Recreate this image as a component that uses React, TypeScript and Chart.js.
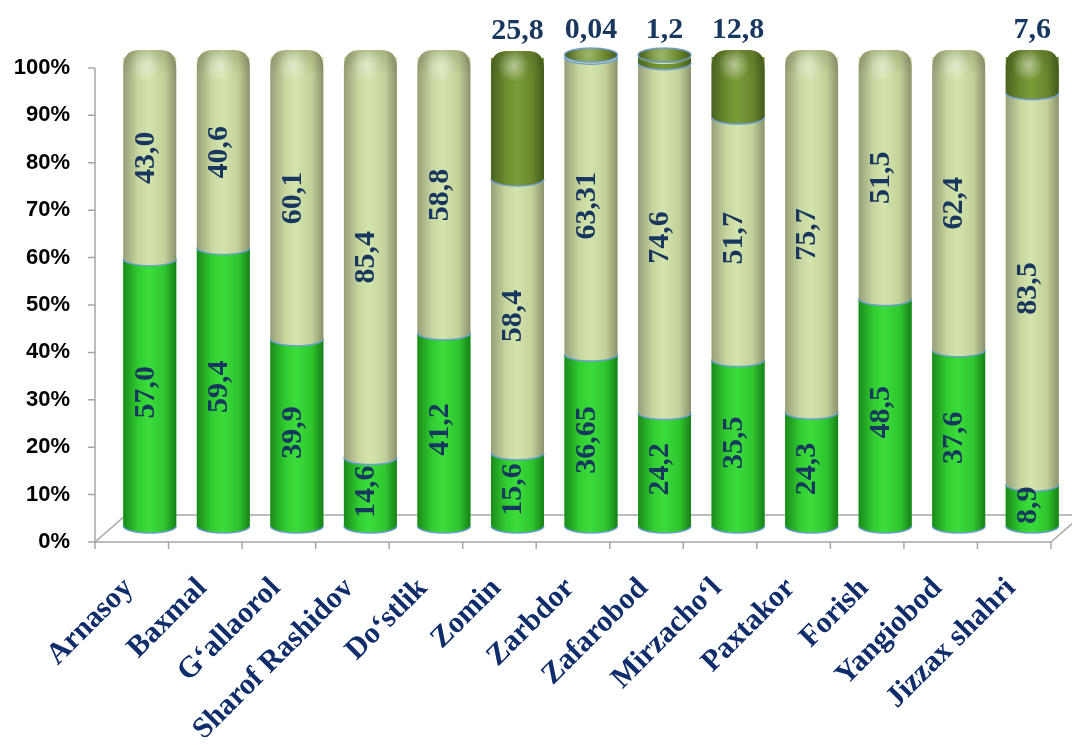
import React, { useEffect, useRef } from "react";
import { Chart, registerables } from "chart.js";

Chart.register(...registerables);

// ---------- data ----------
const categories = [
  "Arnasoy",
  "Baxmal",
  "G‘allaorol",
  "Sharof Rashidov",
  "Do‘stlik",
  "Zomin",
  "Zarbdor",
  "Zafarobod",
  "Mirzacho‘l",
  "Paxtakor",
  "Forish",
  "Yangiobod",
  "Jizzax shahri",
];
const greenValues = [57.0, 59.4, 39.9, 14.6, 41.2, 15.6, 36.65, 24.2, 35.5, 24.3, 48.5, 37.6, 8.9];
const lightValues = [43.0, 40.6, 60.1, 85.4, 58.8, 58.4, 63.31, 74.6, 51.7, 75.7, 51.5, 62.4, 83.5];
const darkValues = [null, null, null, null, null, 25.8, 0.04, 1.2, 12.8, null, null, null, 7.6];
const yTickValues = [0, 10, 20, 30, 40, 50, 60, 70, 80, 90, 100];
// front plane of the 3-D frame (the value axis) is slightly lower/taller than the bar plane
const frontAxisMin = 3.38;
const frontAxisMax = 102.3;

// ---------- styles ----------
const SERIF = '"Liberation Serif", "Times New Roman", serif';
const SANS = '"Liberation Sans", Arial, sans-serif';
const NAVY = "#17375e";
const AXIS_NAVY = "#0f2d6b";
const FRAME = "#a6a6a6";
const segStops: [number, string][][] = [
  [[0, "#1b8a1b"], [0.28, "#31cc31"], [0.48, "#3cdc3c"], [0.78, "#2fc52f"], [1, "#178017"]],
  [[0, "#979f79"], [0.28, "#c8d6a0"], [0.48, "#d4e4ad"], [0.78, "#c3d09a"], [1, "#8a926c"]],
  [[0, "#4a6220"], [0.28, "#6d8b2f"], [0.48, "#7c9c3a"], [0.78, "#6a862d"], [1, "#435a1c"]],
];
const EDGE = "rgba(105,155,215,0.9)";

function fmt(v: number): string {
  const s = v.toString();
  const dec = s.includes(".") ? s.split(".")[1].length : 0;
  return v.toFixed(Math.max(1, dec)).replace(".", ",");
}

const frame3d = {
  id: "frame3d",
  beforeDatasetsDraw(chart: any) {
    const { ctx, chartArea, scales } = chart;
    const yf = scales.yf;
    const depthX = 18;
    const fL = chartArea.left - depthX;
    const fR = chartArea.right - depthX;
    const f0 = yf.getPixelForValue(0);
    const f100 = yf.getPixelForValue(100);
    ctx.save();
    ctx.strokeStyle = FRAME;
    ctx.lineWidth = 1.5;
    ctx.beginPath();
    ctx.moveTo(fL, f100);
    ctx.lineTo(fL, f0);
    ctx.lineTo(fR, f0);
    for (const v of yTickValues) {
      const yy = yf.getPixelForValue(v);
      ctx.moveTo(fL - 7, yy);
      ctx.lineTo(fL, yy);
    }
    const n = categories.length;
    for (let k = 0; k <= n; k++) {
      const xx = fL + ((fR - fL) * k) / n;
      ctx.moveTo(xx, f0);
      ctx.lineTo(xx, f0 + 7);
    }
    // floor depth
    ctx.moveTo(fL, f0);
    ctx.lineTo(fL + 31, f0 - 27);
    ctx.lineTo(fR + 31, f0 - 27);
    ctx.moveTo(fR, f0);
    ctx.lineTo(fR + 31, f0 - 27);
    ctx.stroke();
    ctx.restore();
  },
  afterDatasetsDraw(chart: any) {
    const { ctx } = chart;
    const ry = 7;
    const nDs = chart.data.datasets.length;
    ctx.save();
    for (let i = 0; i < categories.length; i++) {
      let topDs = -1;
      for (let d = 0; d < nDs; d++) {
        const v = chart.data.datasets[d].data[i];
        if (v) topDs = d;
      }
      for (let d = 0; d <= topDs; d++) {
        const v = chart.data.datasets[d].data[i];
        if (!v) continue;
        const el = chart.getDatasetMeta(d).data[i];
        const { x, y, base, width } = el.getProps(["x", "y", "base", "width"], true);
        const rx = width / 2;
        const g = ctx.createLinearGradient(x - rx, 0, x + rx, 0);
        for (const [o, c] of segStops[d]) g.addColorStop(o, c);
        const isTop = d === topDs;
        const thin = base - y < 10;
        ctx.beginPath();
        if (isTop && !thin) {
          const sideTop = y + 12;
          const capTop = y - 7;
          ctx.moveTo(x - rx, sideTop);
          ctx.lineTo(x - rx, base);
          ctx.ellipse(x, base, rx, ry, 0, Math.PI, 0, true);
          ctx.lineTo(x + rx, sideTop);
          ctx.bezierCurveTo(x + rx, capTop + 5, x + rx - 5, capTop, x + rx - 18, capTop);
          ctx.lineTo(x - rx + 18, capTop);
          ctx.bezierCurveTo(x - rx + 5, capTop, x - rx, capTop + 5, x - rx, sideTop);
          ctx.closePath();
          ctx.fillStyle = g;
          ctx.fill();
          const vg = ctx.createLinearGradient(0, capTop, 0, sideTop + 6);
          vg.addColorStop(0, "rgba(60,70,30,0.22)");
          vg.addColorStop(1, "rgba(60,70,30,0)");
          ctx.fillStyle = vg;
          ctx.fill();
          const rg = ctx.createRadialGradient(x - 4, y + 8, 1, x - 4, y + 8, 16);
          rg.addColorStop(0, "rgba(255,255,255,0.45)");
          rg.addColorStop(1, "rgba(255,255,255,0)");
          ctx.fillStyle = rg;
          ctx.fill();
        } else {
          ctx.moveTo(x - rx, y);
          ctx.lineTo(x - rx, base);
          ctx.ellipse(x, base, rx, ry, 0, Math.PI, 0, true);
          ctx.lineTo(x + rx, y);
          ctx.ellipse(x, y, rx, ry, 0, 0, Math.PI, false);
          ctx.closePath();
          ctx.fillStyle = g;
          ctx.fill();
          if (isTop) {
            ctx.beginPath();
            ctx.ellipse(x, y - 2, rx, ry, 0, 0, Math.PI * 2);
            ctx.fillStyle = g;
            ctx.fill();
            const rg = ctx.createRadialGradient(x - 4, y - 2, 1, x - 4, y - 2, 18);
            rg.addColorStop(0, "rgba(255,255,255,0.25)");
            rg.addColorStop(1, "rgba(255,255,255,0)");
            ctx.fillStyle = rg;
            ctx.fill();
            ctx.strokeStyle = EDGE;
            ctx.lineWidth = 1.5;
            ctx.stroke();
          }
        }
        ctx.beginPath();
        ctx.ellipse(x, base, rx, ry, 0, Math.PI, 0, true);
        ctx.strokeStyle = EDGE;
        ctx.lineWidth = 1.5;
        ctx.stroke();
      }
    }
    // value labels
    ctx.fillStyle = NAVY;
    ctx.font = `bold 30px ${SERIF}`;
    for (let d = 0; d < nDs; d++) {
      const meta = chart.getDatasetMeta(d);
      for (let i = 0; i < categories.length; i++) {
        const v = chart.data.datasets[d].data[i];
        if (v === null || v === undefined) continue;
        const el = meta.data[i];
        const { x, y, base } = el.getProps(["x", "y", "base"], true);
        if (d < 2) {
          ctx.save();
          ctx.translate(x, (y + base) / 2);
          ctx.rotate(-Math.PI / 2);
          ctx.textAlign = "center";
          ctx.textBaseline = "middle";
          ctx.fillText(fmt(v), 0, -4);
          ctx.restore();
        } else {
          ctx.textAlign = "center";
          ctx.textBaseline = "alphabetic";
          ctx.fillText(fmt(v), x, y - 19);
        }
      }
    }
    ctx.restore();
  },
};

export default function App() {
  const ref = useRef<HTMLCanvasElement | null>(null);
  useEffect(() => {
    if (!ref.current) return;
    const chart = new Chart(ref.current, {
      type: "bar",
      data: {
        labels: categories,
        datasets: [
          { label: "green", data: greenValues, backgroundColor: "#33cc33", yAxisID: "y" },
          { label: "light", data: lightValues, backgroundColor: "#d0e0a8", yAxisID: "y" },
          { label: "dark", data: darkValues as any, backgroundColor: "#6b8a2e", yAxisID: "y" },
        ],
      },
      options: {
        animation: false,
        responsive: true,
        maintainAspectRatio: false,
        events: [],
        layout: { padding: { top: 49, right: 3, left: 0, bottom: 0 } },
        datasets: { bar: { barPercentage: 0.72, categoryPercentage: 1 } },
        plugins: { legend: { display: false }, tooltip: { enabled: false } },
        scales: {
          x: {
            stacked: true,
            grid: { display: false, drawTicks: false },
            border: { display: false },
            ticks: {
              autoSkip: false,
              minRotation: 45,
              maxRotation: 45,
              padding: 45,
              labelOffset: -21,
              color: AXIS_NAVY,
              font: { family: SERIF, size: 30, weight: "bold" },
            },
            afterFit: (s: any) => {
              s.height = 211;
              s.paddingLeft = 0;
              s.paddingRight = 0;
            },
          },
          y: { stacked: true, display: false, min: 0, max: 100 },
          yf: {
            position: "left",
            min: frontAxisMin,
            max: frontAxisMax,
            grid: { display: false, drawTicks: false },
            border: { display: false },
            afterBuildTicks: (s: any) => {
              s.ticks = yTickValues.map((v) => ({ value: v }));
            },
            ticks: {
              autoSkip: false,
              padding: 43,
              color: "#000000",
              font: { family: SANS, size: 22, weight: "bold" },
              callback: (v: any) => v + "%",
            },
            afterFit: (s: any) => {
              s.width = 105;
              s.paddingTop = 0;
              s.paddingBottom = 0;
            },
          },
        },
      } as any,
      plugins: [frame3d],
    });
    return () => chart.destroy();
  }, []);
  return (
    <div style={{ width: "1064px", height: "729px", position: "relative" }}>
      <canvas ref={ref} />
    </div>
  );
}
